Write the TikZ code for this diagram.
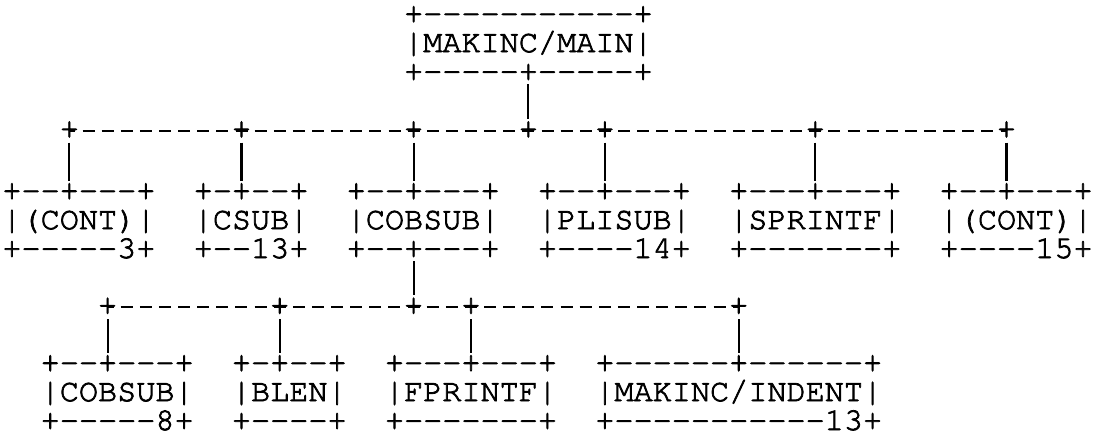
\documentclass[tikz,border=0pt]{standalone}
\usepackage[T1,TU]{fontenc}
\usepackage{tikz}

\newcommand{\courierfont}{\fontencoding{T1}\fontfamily{pcr}\fontseries{m}\fontshape{n}\fontsize{23.9}{21.675}\selectfont\special{pdf:literal 2 Tr 0.55 w}}
\newcommand{\hy}[1]{\foreach \n in {1,...,#1}{-{}}}
\newcommand{\asciibox}[3]{\raisebox{0pt}[\dimexpr\height-3pt\relax][\dimexpr\depth-6.5pt\relax]{\begin{tabular}{@{}l@{}}\smash{#1}\\\smash{#2}\\\smash{#3}\end{tabular}}}

\begin{document}
\begin{tikzpicture}[x=0.75pt,y=0.75pt,yscale=-1,xscale=1,
  box/.style={inner sep=0pt,font=\courierfont},
  plus/.style={inner sep=0pt,font=\courierfont},
  link/.style={line width=1.6pt,shorten <=3pt,shorten >=2pt},
  bus/.style={line width=1.5pt,dash pattern=on 9pt off 5.34375pt,dash phase=4.5pt}]
\path[use as bounding box] (0,0) rectangle (1094,434);

% Text Node
\draw (528.4,44) node (main) [box] {\asciibox{+\hy{11}+}{|MAKINC/MAIN|}{+\hy{5}+\hy{5}+}};
% Text Node
\draw (78.9,221) node (cont1) [box] {\asciibox{+\hy{2}+\hy{3}+}{|(CONT)|}{+\hy{5}3+}};
% Text Node
\draw (251.1,221) node (csub) [box] {\asciibox{+\hy{1}+\hy{2}+}{|CSUB|}{+\hy{2}13+}};
% Text Node
\draw (423.2,221) node (cobsub) [box] {\asciibox{+\hy{2}+\hy{3}+}{|COBSUB|}{+\hy{2}+\hy{3}+}};
% Text Node
\draw (614.4,221) node (plisub) [box] {\asciibox{+\hy{2}+\hy{3}+}{|PLISUB|}{+\hy{4}14+}};
% Text Node
\draw (815.3,221) node (sprintf) [box] {\asciibox{+\hy{3}+\hy{3}+}{|SPRINTF|}{+\hy{7}+}};
% Text Node
\draw (1016.1,221) node (cont2) [box] {\asciibox{+\hy{2}+\hy{3}+}{|(CONT)|}{+\hy{4}15+}};
% Text Node
\draw (117.2,393) node (cobsubb) [box] {\asciibox{+\hy{2}+\hy{3}+}{|COBSUB|}{+\hy{5}8+}};
% Text Node
\draw (289.3,393) node (blen) [box] {\asciibox{+\hy{1}+\hy{2}+}{|BLEN|}{+\hy{4}+}};
% Text Node
\draw (471,393) node (fprintf) [box] {\asciibox{+\hy{3}+\hy{3}+}{|FPRINTF|}{+\hy{7}+}};
% Text Node
\draw (738.75,393) node (indent) [box] {\asciibox{+\hy{6}+\hy{6}+}{|MAKINC/INDENT|}{+\hy{11}13+}};

%Straight Lines
\draw [bus] (69.4,130.6) -- (1006.5,130.6);
\draw [bus] (107.6,307) -- (738.75,307);

% Text Node
\draw (69.4,130.6) node (j3) [plus] {+};
\draw (241.5,130.6) node (j12) [plus] {+};
\draw (413.6,130.6) node (j21) [plus] {+};
\draw (528.4,130.6) node (j27) [plus] {+};
\draw (604.9,130.6) node (j31) [plus] {+};
\draw (815.3,130.6) node (j42) [plus] {+};
\draw (1006.5,130.6) node (j52) [plus] {+};
% Text Node
\draw (107.6,307) node (k5) [plus] {+};
\draw (279.75,307) node (k14) [plus] {+};
\draw (413.6,307) node (k21) [plus] {+};
\draw (471,307) node (k24) [plus] {+};
\draw (738.75,307) node (k38) [plus] {+};

%Straight Lines
\draw [link] (j27) -- (main);
\draw [link] (j3) -- (j3 |- cont1.north);
\draw [link] (j12) -- (j12 |- csub.north);
\draw [link] (j21) -- (j21 |- cobsub.north);
\draw [link] (j31) -- (j31 |- plisub.north);
\draw [link] (j42) -- (j42 |- sprintf.north);
\draw [link] (j52) -- (j52 |- cont2.north);
%Straight Lines
\draw [link] (k21) -- (k21 |- cobsub.south);
\draw [link] (k5) -- (k5 |- cobsubb.north);
\draw [link] (k14) -- (k14 |- blen.north);
\draw [link] (k24) -- (k24 |- fprintf.north);
\draw [link] (k38) -- (k38 |- indent.north);

\end{tikzpicture}
\end{document}
